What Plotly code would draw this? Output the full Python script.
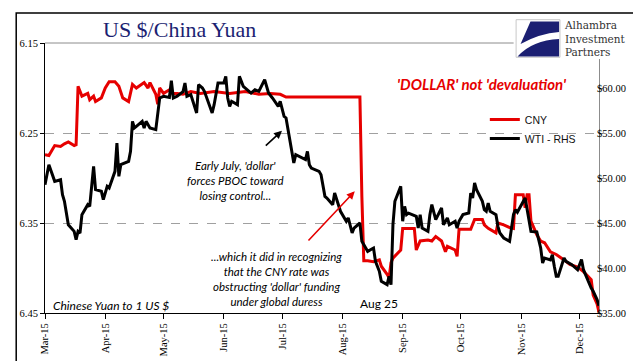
import plotly.graph_objects as go

# ---------------- data ----------------
cny_dates = [
    "2015-03-01", "2015-03-03", "2015-03-06", "2015-03-09", "2015-03-11", "2015-03-13", "2015-03-16", "2015-03-17",
    "2015-03-18", "2015-03-20", "2015-03-23", "2015-03-24", "2015-03-26", "2015-03-27", "2015-03-30",
    "2015-04-01", "2015-04-03", "2015-04-06", "2015-04-08", "2015-04-10", "2015-04-13", "2015-04-15",
    "2015-04-17", "2015-04-21", "2015-04-23", "2015-04-24", "2015-04-27", "2015-04-28", "2015-04-29",
    "2015-05-01", "2015-05-04", "2015-05-06", "2015-05-08", "2015-05-11", "2015-05-15", "2015-05-20", "2015-05-27",
    "2015-06-04", "2015-06-12", "2015-06-19", "2015-06-25", "2015-06-30",
    "2015-07-03", "2015-07-08", "2015-07-17", "2015-07-23",
    "2015-08-10", "2015-08-11", "2015-08-12", "2015-08-14", "2015-08-17", "2015-08-20", "2015-08-21",
    "2015-08-24", "2015-08-25", "2015-08-26", "2015-08-27", "2015-08-31",
    "2015-09-01", "2015-09-03", "2015-09-07", "2015-09-08", "2015-09-10", "2015-09-14", "2015-09-16",
    "2015-09-18", "2015-09-21", "2015-09-23", "2015-09-24", "2015-09-28", "2015-09-29", "2015-09-30",
    "2015-10-02", "2015-10-06", "2015-10-08", "2015-10-12", "2015-10-13", "2015-10-15", "2015-10-19",
    "2015-10-20", "2015-10-23", "2015-10-26", "2015-10-28", "2015-10-29",
    "2015-11-02", "2015-11-03", "2015-11-04", "2015-11-05", "2015-11-06", "2015-11-09", "2015-11-11",
    "2015-11-13", "2015-11-16", "2015-11-19", "2015-11-23", "2015-11-26", "2015-11-30",
    "2015-12-03", "2015-12-07", "2015-12-08", "2015-12-10", "2015-12-11",
]
cny_values = [
    6.274, 6.275, 6.264, 6.265, 6.262, 6.260, 6.264, 6.263,
    6.198, 6.209, 6.206, 6.213, 6.209, 6.215, 6.211,
    6.200, 6.193, 6.193, 6.198, 6.211, 6.215, 6.196,
    6.200, 6.194, 6.200, 6.194, 6.207, 6.218, 6.200,
    6.206, 6.202, 6.206, 6.206, 6.207, 6.204, 6.206, 6.204,
    6.206, 6.204, 6.207, 6.206, 6.207,
    6.210, 6.210, 6.210, 6.210,
    6.210, 6.320, 6.392, 6.392, 6.393, 6.391, 6.398,
    6.407, 6.411, 6.394, 6.389, 6.380,
    6.356, 6.356, 6.356, 6.380, 6.370, 6.369, 6.370,
    6.365, 6.370, 6.382, 6.376, 6.380, 6.387, 6.357,
    6.357, 6.357, 6.346, 6.346, 6.352, 6.356, 6.361,
    6.350, 6.352, 6.355, 6.356, 6.3185,
    6.3185, 6.333, 6.3185, 6.3185, 6.348, 6.363, 6.370,
    6.372, 6.382, 6.385, 6.391, 6.396, 6.399,
    6.404, 6.413, 6.430, 6.440, 6.449,
]

wti_dates = [
    "2015-03-01", "2015-03-03", "2015-03-06", "2015-03-09", "2015-03-10", "2015-03-11", "2015-03-13", "2015-03-16",
    "2015-03-17", "2015-03-18", "2015-03-19", "2015-03-20", "2015-03-23", "2015-03-24", "2015-03-26", "2015-03-27",
    "2015-03-30", "2015-03-31",
    "2015-04-02", "2015-04-03", "2015-04-06", "2015-04-07", "2015-04-08", "2015-04-09", "2015-04-13", "2015-04-14",
    "2015-04-15", "2015-04-16", "2015-04-17", "2015-04-20", "2015-04-21", "2015-04-22", "2015-04-24", "2015-04-27",
    "2015-04-29",
    "2015-05-01", "2015-05-04", "2015-05-05", "2015-05-06", "2015-05-08", "2015-05-11", "2015-05-12", "2015-05-13",
    "2015-05-15", "2015-05-18", "2015-05-19", "2015-05-21", "2015-05-22", "2015-05-26", "2015-05-27", "2015-05-29",
    "2015-06-01", "2015-06-02", "2015-06-03", "2015-06-04", "2015-06-05", "2015-06-08", "2015-06-09", "2015-06-11",
    "2015-06-15", "2015-06-17", "2015-06-19", "2015-06-22", "2015-06-24", "2015-06-26", "2015-06-29", "2015-06-30",
    "2015-07-02", "2015-07-03", "2015-07-06", "2015-07-07", "2015-07-08", "2015-07-10", "2015-07-13", "2015-07-14",
    "2015-07-15", "2015-07-16", "2015-07-20", "2015-07-21", "2015-07-22", "2015-07-23", "2015-07-24", "2015-07-27",
    "2015-07-28", "2015-07-29", "2015-07-31",
    "2015-08-03", "2015-08-04", "2015-08-06", "2015-08-07", "2015-08-10", "2015-08-11", "2015-08-13", "2015-08-14",
    "2015-08-17", "2015-08-18", "2015-08-20", "2015-08-21", "2015-08-24", "2015-08-25", "2015-08-26", "2015-08-27",
    "2015-08-28", "2015-08-31",
    "2015-09-01", "2015-09-02", "2015-09-03", "2015-09-04", "2015-09-08", "2015-09-09", "2015-09-10", "2015-09-11",
    "2015-09-14", "2015-09-15", "2015-09-16", "2015-09-18", "2015-09-21", "2015-09-22", "2015-09-24", "2015-09-25",
    "2015-09-28", "2015-09-29", "2015-09-30",
    "2015-10-02", "2015-10-05", "2015-10-06", "2015-10-07", "2015-10-08", "2015-10-09", "2015-10-12", "2015-10-13",
    "2015-10-14", "2015-10-15", "2015-10-16", "2015-10-19", "2015-10-20", "2015-10-21", "2015-10-23", "2015-10-26",
    "2015-10-28", "2015-10-29", "2015-10-30",
    "2015-11-03", "2015-11-04", "2015-11-05", "2015-11-06", "2015-11-09", "2015-11-10", "2015-11-11", "2015-11-12",
    "2015-11-13", "2015-11-16", "2015-11-17", "2015-11-18", "2015-11-19", "2015-11-20", "2015-11-23", "2015-11-24",
    "2015-11-27", "2015-11-30",
    "2015-12-02", "2015-12-03", "2015-12-04", "2015-12-07", "2015-12-08", "2015-12-10", "2015-12-11",
]
wti_values = [
    49.26, 51.48, 49.63, 49.81, 48.15, 47.41, 44.81, 44.07,
    43.15, 44.07, 43.89, 45.93, 47.04, 46.85, 51.30, 48.70,
    48.52, 47.59,
    49.07, 48.89, 50.74, 53.89, 50.19, 51.48, 51.85, 52.96,
    56.30, 55.56, 55.74, 56.30, 55.56, 56.30, 55.56, 55.37,
    58.89,
    59.07, 58.95, 60.81, 58.89, 59.10, 59.60, 60.56, 59.07,
    59.26, 57.22, 60.37, 60.00, 59.63, 57.22, 58.15, 60.56,
    60.56, 61.30, 58.89, 57.96, 58.52, 58.15, 61.30, 60.19,
    59.44, 59.80, 59.63, 60.93, 59.44, 58.89, 57.96, 58.52,
    56.85, 56.67, 52.96, 51.67, 52.59, 52.40, 52.04, 52.96,
    51.48, 51.11, 50.74, 50.37, 49.07, 47.96, 47.78, 47.04,
    48.33, 47.59, 46.30,
    45.19, 45.56, 43.89, 44.44, 45.00, 42.96, 42.22, 41.85,
    42.22, 40.74, 39.63, 38.52, 38.15, 39.07, 38.15, 44.81,
    47.41, 49.07,
    45.19, 46.85, 45.93, 46.10, 45.74, 44.44, 45.93, 44.44,
    44.07, 45.93, 47.04, 45.37, 46.67, 44.81, 45.56, 44.81,
    45.19, 44.44, 45.19,
    45.93, 46.11, 48.33, 47.78, 49.44, 48.70, 47.41, 46.48,
    46.30, 47.22, 46.30, 45.93, 44.63, 43.89, 43.33, 42.96,
    45.93, 46.48, 46.20,
    47.78, 46.67, 45.19, 44.07, 44.00, 43.15, 42.22, 40.56,
    41.11, 40.90, 41.48, 40.19, 39.07, 39.07, 41.11, 40.74,
    40.37, 39.81,
    40.93, 39.81, 39.26, 37.78, 37.41, 36.50, 35.80,
]

left_ticks = [6.15, 6.25, 6.35, 6.45]
left_labels = ["6.15", "6.25", "6.35", "6.45"]
right_ticks = [35, 40, 45, 50, 55, 60]
right_labels = ["$35.00", "$40.00", "$45.00", "$50.00", "$55.00", "$60.00"]
month_ticks = ["2015-03-01", "2015-04-01", "2015-05-01", "2015-06-01", "2015-07-01",
               "2015-08-01", "2015-09-01", "2015-10-01", "2015-11-01", "2015-12-01"]
month_labels = ["Mar-15", "Apr-15", "May-15", "Jun-15", "Jul-15",
                "Aug-15", "Sep-15", "Oct-15", "Nov-15", "Dec-15"]

# ---------------- layout geometry ----------------
W, H = 641, 361
L, R, T, B = 33, 591, 35, 305          # plot area in pixels


def P(px, py):
    """pixel -> paper coordinates"""
    return (px - L) / (R - L), (B - py) / (B - T)


RED = "#E60000"
NAVY = "#1B1F72"
SERIF = "Liberation Serif"
SANS = "Liberation Sans"
CAL = "Lato"

fig = go.Figure()
fig.add_trace(go.Scatter(x=cny_dates, y=cny_values, name="CNY", mode="lines",
                         line=dict(color=RED, width=3), yaxis="y"))
fig.add_trace(go.Scatter(x=wti_dates, y=wti_values, name="WTI - RHS", mode="lines",
                         line=dict(color="black", width=3), yaxis="y2"))

shapes = []
# top solid line of plot area
shapes.append(dict(type="line", xref="paper", yref="paper", x0=0, x1=1, y0=1, y1=1,
                   line=dict(color="#8c8c8c", width=1), layer="below"))
# outer frame
fx0, fy0 = P(4, 355)
fx1, fy1 = P(632, 5)
shapes.append(dict(type="rect", xref="paper", yref="paper", x0=fx0, x1=fx1, y0=fy0, y1=fy1,
                   line=dict(color="black", width=1.5), layer="above"))
# logo white box
lx0, ly0 = P(505, 51)
lx1, ly1 = P(629, 8)
shapes.append(dict(type="rect", xref="paper", yref="paper", x0=lx0, x1=lx1, y0=ly0, y1=ly1,
                   line=dict(width=0), fillcolor="white", layer="above"))
# logo icon square
ix0, iy0 = P(507.5, 49.3)
ix1, iy1 = P(551.7, 11.7)
shapes.append(dict(type="rect", xref="paper", yref="paper", x0=ix0, x1=ix1, y0=iy0, y1=iy1,
                   line=dict(color="#c8c8c8", width=1), fillcolor="white", layer="above"))


def path(cmds):
    out = []
    for c in cmds:
        if isinstance(c, str):
            out.append(c)
        else:
            x, y = P(*c)
            out.append(f"{x:.5f},{y:.5f}")
    return " ".join(out)


shapes.append(dict(type="path", xref="paper", yref="paper", layer="above",
                   path=path(["M", (522, 13.5), "L", (550.8, 13.5), "L", (550.8, 24),
                              "Q", (531, 25.5), (512, 36), "Z"]),
                   fillcolor=NAVY, line=dict(width=0)))
shapes.append(dict(type="path", xref="paper", yref="paper", layer="above",
                   path=path(["M", (509, 48.5), "Q", (524, 32), (550.8, 31), "L", (550.8, 48.5), "Z"]),
                   fillcolor=NAVY, line=dict(width=0)))

annotations = []


def ann(text, px, py, size, color="black", family=CAL, xanchor="center", **kw):
    x, y = P(px, py)
    annotations.append(dict(text=text, x=x, y=y, xref="paper", yref="paper", showarrow=False,
                            xanchor=xanchor, yanchor="middle",
                            font=dict(family=family, size=size, color=color), **kw))


ann("US $/China Yuan", 168.5, 21, 22, color=NAVY, family=SERIF)
ann("<b><i>'DOLLAR' not 'devaluation'</i></b>", 473, 76, 15, color=RED)
ann("<i>Early July, 'dollar'<br>forces PBOC toward<br>losing control...</i>", 225, 172.3, 11.5)
ann("<i>...which it did in recognizing<br>that the CNY rate was<br>obstructing 'dollar' funding<br>under global duress</i>",
    266, 270.8, 11.5)
ann("Aug 25", 369, 295, 12)
ann("<i>Chinese Yuan to 1 US $</i>", 39, 297.3, 12, xanchor="left")
# logo text (one block)
ann("Alhambra<br>Investment<br>Partners", 554, 31, 10.5, color="#333333", family="DejaVu Serif",
    xanchor="left", align="left")

# arrows
hx, hy = P(271.7, 122.7)
annotations.append(dict(x=hx, y=hy, xref="paper", yref="paper", text="", showarrow=True,
                        ax=-17.7, ay=16.3, arrowhead=2, arrowsize=1, arrowwidth=1.6,
                        arrowcolor="black"))
hx, hy = P(345, 183.3)
annotations.append(dict(x=hx, y=hy, xref="paper", yref="paper", text="", showarrow=True,
                        ax=-47.7, ay=50.7, arrowhead=2, arrowsize=1, arrowwidth=1.6,
                        arrowcolor=RED))

legx, legy = P(476, 97)

fig.update_layout(
    width=W, height=H,
    margin=dict(l=L, r=W - R, t=T, b=H - B, pad=0),
    paper_bgcolor="white", plot_bgcolor="white",
    showlegend=True,
    legend=dict(x=legx, y=legy, xanchor="left", yanchor="top", bgcolor="rgba(0,0,0,0)",
                font=dict(family=SANS, size=10.5, color="#111111"), itemwidth=30,
                tracegroupgap=0),
    xaxis=dict(type="date", range=["2015-03-01", "2015-12-11"],
               tickvals=month_ticks, ticktext=month_labels, tickangle=-90,
               ticks="outside", ticklen=5, tickcolor="black",
               showline=True, linecolor="black", linewidth=1,
               showgrid=False, zeroline=False,
               tickfont=dict(family=SERIF, size=10.5, color="black")),
    yaxis=dict(range=[6.45, 6.15], tickvals=left_ticks, ticktext=left_labels,
               ticks="outside", ticklen=4, tickcolor="black",
               showline=True, linecolor="black", linewidth=1,
               showgrid=True, gridcolor="#a0a0a0", griddash="dash", gridwidth=1,
               zeroline=False,
               tickfont=dict(family=SERIF, size=10.5, color="black")),
    yaxis2=dict(range=[35, 65], tickvals=right_ticks, ticktext=right_labels,
                overlaying="y", side="right",
                ticks="outside", ticklen=3, tickcolor="#8c8c8c",
                ticklabelposition="outside", ticklabelstandoff=-8,
                showline=True, linecolor="#8c8c8c", linewidth=1,
                showgrid=False, zeroline=False,
                tickfont=dict(family=SERIF, size=10.5, color="black")),
    shapes=shapes,
    annotations=annotations,
)

fig.write_html("out.html")
